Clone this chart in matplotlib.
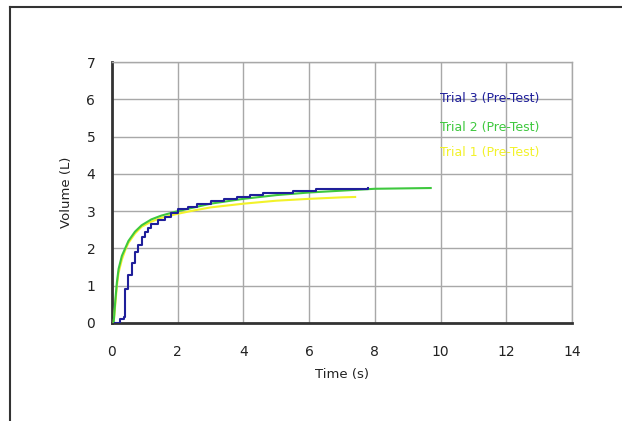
import numpy as np
from matplotlib import pyplot as plt
from matplotlib.lines import Line2D

# spirometry trials (time in s, volume in L)
t3 = [0.1, 0.25, 0.35, 0.4, 0.5, 0.6, 0.7, 0.8, 0.9, 1.0, 1.1, 1.2, 1.4, 1.6, 1.8, 2.0,
      2.3, 2.6, 3.0, 3.4, 3.8, 4.2, 4.6, 5.0, 5.5, 6.2, 7.0, 7.8]
v3 = [0.0, 0.1, 0.15, 0.9, 1.3, 1.6, 1.9, 2.1, 2.3, 2.45, 2.55, 2.65, 2.75, 2.85, 2.95, 3.05,
      3.12, 3.2, 3.27, 3.33, 3.38, 3.42, 3.48, 3.5, 3.55, 3.6, 3.6, 3.62]

t2 = [0.05, 0.1, 0.15, 0.2, 0.3, 0.4, 0.5, 0.7, 0.9, 1.2, 1.5, 2.0, 2.5, 3.0, 4.0, 5.0,
      6.0, 7.0, 8.0, 9.7]
v2 = [0.0, 0.6, 1.1, 1.45, 1.8, 2.0, 2.2, 2.45, 2.62, 2.78, 2.88, 3.0, 3.1, 3.2, 3.33, 3.43,
      3.5, 3.55, 3.6, 3.62]

t1 = [0.05, 0.1, 0.15, 0.2, 0.3, 0.4, 0.5, 0.7, 0.9, 1.2, 1.5, 2.0, 2.5, 3.0, 4.0, 5.0,
      6.0, 7.0, 7.4]
v1 = [0.0, 0.5, 1.0, 1.35, 1.7, 1.95, 2.15, 2.4, 2.58, 2.72, 2.82, 2.93, 3.02, 3.1, 3.2, 3.28,
      3.33, 3.37, 3.38]

labels = ['Trial 3 (Pre-Test)', 'Trial 2 (Pre-Test)', 'Trial 1 (Pre-Test)']
colors = ['#1f1f9a', '#3ec83e', '#f2f22a']

fig = plt.figure(figsize=(6.22, 4.21), dpi=100)
# outer frame (only top and left edges visible)
fig.add_artist(Line2D([10/622, 10/622], [0, 1 - 7/421], color='#333333', lw=1.5))
fig.add_artist(Line2D([10/622, 1], [1 - 7/421, 1 - 7/421], color='#333333', lw=1.5))

ax = fig.add_axes([112/622, 1 - 323/421, 460/622, 261/421])
ax.plot(t1, v1, color=colors[2], lw=1.5, zorder=3)
ax.plot(t2, v2, color=colors[1], lw=1.5, zorder=4)
ax.plot(t3, v3, color=colors[0], lw=1.5, drawstyle='steps-post', zorder=5)

ax.set_xlim(0, 14)
ax.set_ylim(0, 7)
ax.set_xticks(range(0, 15, 2))
ax.set_yticks(range(0, 8))
ax.grid(True, color='#a8a8a8', lw=1)
ax.tick_params(length=0, labelsize=10, colors='#222222')
ax.tick_params(axis='x', pad=16)
ax.tick_params(axis='y', pad=12)
for s in ['top', 'right']:
    ax.spines[s].set_color('#a8a8a8')
    ax.spines[s].set_linewidth(1)
for s in ['bottom', 'left']:
    ax.spines[s].set_color('#333333')
    ax.spines[s].set_linewidth(2)
ax.set_xlabel('Time (s)', fontsize=9.5, color='#222222', labelpad=6)
ax.set_ylabel('Volume (L)', fontsize=9.5, color='#222222', labelpad=10)

ys = [6.03, 5.23, 4.56]
for lab, c, y in zip(labels, colors, ys):
    ax.text(13.0, y, lab, color=c, fontsize=9, ha='right', va='center')

fig.savefig('out.png', dpi=100)
